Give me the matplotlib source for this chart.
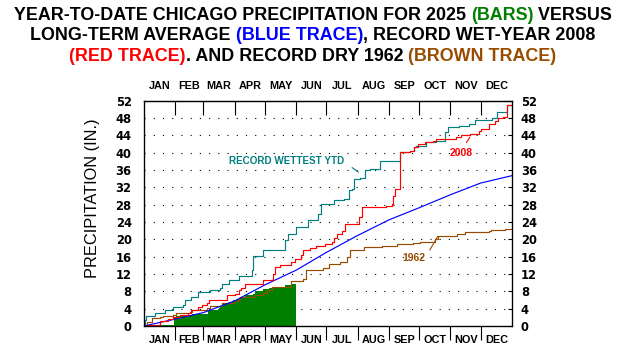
import matplotlib
matplotlib.use("Agg")
import matplotlib.pyplot as plt
from matplotlib.text import Text

W, H = 626, 354

# ---- data (day of year, cumulative inches) ----
months = ["JAN", "FEB", "MAR", "APR", "MAY", "JUN",
          "JUL", "AUG", "SEP", "OCT", "NOV", "DEC"]
month_start = [0, 31, 59, 90, 120, 151, 181, 212, 243, 273, 304, 334, 365]

# 2025 year to date (green bars)
ytd_day = [0, 5, 12, 30, 32, 38, 48, 63, 74, 75, 77, 84, 88, 92, 95, 100,
           108, 110, 118, 124, 140, 146, 151]
ytd_val = [0.05, 0.15, 0.3, 2.0, 2.3, 2.5, 2.8, 3.7, 4.1, 4.6, 5.1, 5.6, 5.9,
           6.3, 6.8, 7.1, 7.4, 8.1, 8.5, 8.7, 9.4, 9.6, 9.6]

# long-term average (blue), month-end values
avg_day = month_start
avg_val = [0, 1.6, 3.1, 5.8, 9.5, 12.9, 17.0, 20.9, 24.5, 27.3, 30.3, 33.0, 34.7]

# record wet year 2008 (red)
wet_day = [0, 4, 16, 24, 29, 36, 44, 47, 54, 58, 62, 64, 82, 90, 94, 96, 100,
           118, 128, 130, 135, 146, 150, 156, 158, 165, 171, 180, 186, 188,
           191, 196, 199, 213, 216, 240, 246, 247, 249, 254, 264, 268, 272,
           279, 287, 290, 309, 314, 323, 332, 334, 342, 348, 351, 356, 360, 365]
wet_val = [0.0, 0.2, 1.2, 1.6, 2.0, 2.5, 2.9, 3.7, 4.4, 4.8, 5.2, 6.1, 7.1,
           7.4, 8.3, 8.7, 9.8, 10.6, 12.0, 13.6, 14.0, 14.8, 15.5, 16.3, 17.6,
           18.0, 18.4, 19.0, 19.4, 20.2, 21.3, 22.0, 23.6, 25.1, 27.5, 27.8,
           28.1, 30.1, 31.7, 40.1, 40.5, 41.3, 42.0, 42.4, 42.8, 43.2, 43.6,
           44.1, 44.3, 45.1, 45.5, 46.6, 47.4, 47.9, 48.2, 50.9, 50.9]

# record wettest year-to-date (teal)
rec_day = [0, 1, 2, 11, 21, 29, 39, 41, 47, 54, 65, 75, 77, 84, 94, 107, 108,
           118, 128, 140, 143, 151, 163, 173, 176, 188, 198, 203, 206, 208,
           214, 219, 224, 234, 254, 264, 268, 270, 280, 290, 299, 302, 312,
           322, 328, 345, 350, 360, 365]
rec_val = [0.3, 1.4, 2.3, 3.1, 3.7, 4.3, 4.8, 6.0, 6.7, 7.9, 8.3, 8.7, 9.8,
           10.6, 11.5, 12.9, 16.1, 17.5, 17.6, 19.8, 21.3, 22.8, 24.4, 25.9,
           28.2, 29.0, 29.4, 31.3, 31.7, 34.0, 34.2, 35.9, 36.3, 38.0, 40.1,
           40.5, 41.3, 41.6, 42.4, 42.8, 44.7, 45.9, 46.1, 46.6, 47.6, 47.9,
           49.3, 50.9, 50.9]

# record dry year 1962 (brown)
dry_day = [0, 3, 8, 16, 19, 29, 32, 46, 48, 62, 65, 77, 89, 93, 95, 110, 118,
           122, 127, 146, 158, 161, 178, 183, 194, 201, 204, 208, 218, 236,
           251, 267, 274, 289, 292, 310, 318, 342, 344, 358, 365]
dry_val = [0.0, 1.0, 1.8, 2.0, 2.3, 2.5, 2.9, 3.3, 3.7, 4.2, 4.6, 5.4, 5.8,
           6.1, 6.7, 7.1, 7.6, 8.3, 8.9, 10.4, 10.8, 12.9, 13.3, 14.4, 14.8,
           15.9, 17.5, 17.6, 18.2, 18.5, 18.9, 19.2, 19.4, 20.0, 20.7, 21.3,
           21.7, 21.9, 22.1, 22.3, 22.3]

yticks = list(range(0, 53, 4))

GREEN, BLUE, RED, TEAL, BROWN = "#008000", "#0000ff", "#ff0000", "#008080", "#994c00"
FONT = "Liberation Sans"

plt.rcParams["font.family"] = [FONT, "DejaVu Sans"]

fig = plt.figure(figsize=(W / 100, H / 100), dpi=100)
ax = fig.add_axes([144 / W, 28 / H, 368 / W, 225.3 / H])

ax.fill_between(ytd_day, ytd_val, step="post", color=GREEN, lw=0, zorder=2)
ax.step(rec_day, rec_val, where="post", color=TEAL, lw=0.85, zorder=3)
ax.step(dry_day, dry_val, where="post", color=BROWN, lw=0.85, zorder=3)
ax.plot(avg_day, avg_val, color=BLUE, lw=0.85, zorder=4)
ax.step(wet_day, wet_val, where="post", color=RED, lw=0.85, zorder=5)

ax.set_xlim(0, 365)
ax.set_ylim(0, 52)
for s in ax.spines.values():
    s.set_linewidth(0.9)
    s.set_zorder(6)

# y axis: left labels, right labels with inward ticks
ax.set_yticks(yticks)
ax.tick_params(axis="y", length=0, pad=8.9, labelsize=8.3)
for t in ax.get_yticklabels():
    t.set_fontfamily("DejaVu Sans")
    t.set_fontweight("bold")
ax.grid(axis="y", color="k", lw=0.8, ls=(0, (1, 7.3)))
axr = ax.twinx()
axr.set_ylim(0, 52)
axr.set_yticks(yticks)
axr.tick_params(axis="y", direction="in", length=3, width=0.8, pad=6.3, labelsize=8.3)
for t in axr.get_yticklabels():
    t.set_fontfamily("DejaVu Sans")
    t.set_fontweight("bold")

# x axis: month boundaries and month names, top and bottom
mids = [(a + b) / 2 for a, b in zip(month_start[:-1], month_start[1:])]
ax.set_xticks(month_start[1:-1])
ax.set_xticklabels([])
ax.tick_params(axis="x", which="major", direction="out", length=10, width=0.8)
ax.set_xticks(mids, minor=True)
ax.set_xticklabels(months, minor=True, fontsize=7.8, fontweight="bold")
ax.tick_params(axis="x", which="minor", length=0, pad=6.5)
top = ax.secondary_xaxis("top")
top.set_xticks(month_start[1:-1])
top.set_xticklabels([])
top.tick_params(axis="x", which="major", direction="in", length=10, width=0.8)
top.set_xticks(mids, minor=True)
top.set_xticklabels(months, minor=True, fontsize=7.8, fontweight="bold")
top.tick_params(axis="x", which="minor", length=0, pad=7.2)

fig.text(92.5 / W, 1 - 198 / H, "PRECIPITATION (IN.)", rotation=90,
         fontsize=11.8, ha="center", va="center")

# trace labels
ax.annotate("RECORD WETTEST YTD", xy=(212.6, 35.5), xytext=(141, 38.0),
            color=TEAL, fontsize=7.1, fontweight="bold", ha="center", va="center",
            arrowprops=dict(arrowstyle="-", color=TEAL, lw=0.8, relpos=(1, 0.5),
                            shrinkA=5, shrinkB=0))
ax.annotate("2008", xy=(323.4, 43.6), xytext=(314.2, 40.0),
            color=RED, fontsize=7.5, fontweight="bold", ha="center", va="center",
            arrowprops=dict(arrowstyle="-", color=RED, lw=0.8, relpos=(0.6, 1),
                            shrinkA=2, shrinkB=0))
ax.annotate("1962", xy=(291.4, 20.7), xytext=(267.2, 15.6),
            color=BROWN, fontsize=7.5, fontweight="bold", ha="center", va="center",
            arrowprops=dict(arrowstyle="-", color=BROWN, lw=0.8, relpos=(1, 0.5),
                            shrinkA=3, shrinkB=0))

# multi-coloured title
title_lines = [
    [("YEAR-TO-DATE CHICAGO PRECIPITATION FOR 2025 ", "k"), ("(BARS)", GREEN),
     (" VERSUS", "k")],
    [("LONG-TERM AVERAGE ", "k"), ("(BLUE TRACE)", BLUE),
     (", RECORD WET-YEAR 2008", "k")],
    [("(RED TRACE)", RED), (". AND RECORD DRY 1962 ", "k"),
     ("(BROWN TRACE)", BROWN)],
]
title_y = [15.5, 35.5, 56.3]
TSIZE = 12.9
renderer = fig.canvas.get_renderer()


def text_width(s):
    probe = Text(0, 0, s + "|", fontsize=TSIZE, fontweight="bold", figure=fig)
    bar = Text(0, 0, "|", fontsize=TSIZE, fontweight="bold", figure=fig)
    return (probe.get_window_extent(renderer).width
            - bar.get_window_extent(renderer).width)


for parts, y in zip(title_lines, title_y):
    full = "".join(p for p, _ in parts)
    x0 = (W - text_width(full)) / 2
    prefix = ""
    for s, c in parts:
        x = x0 + (text_width(prefix) if prefix else 0)
        fig.text(x / W, 1 - y / H, s, color=c, fontsize=TSIZE,
                 fontweight="bold", ha="left", va="center")
        prefix += s

fig.savefig("out.png", dpi=100)
